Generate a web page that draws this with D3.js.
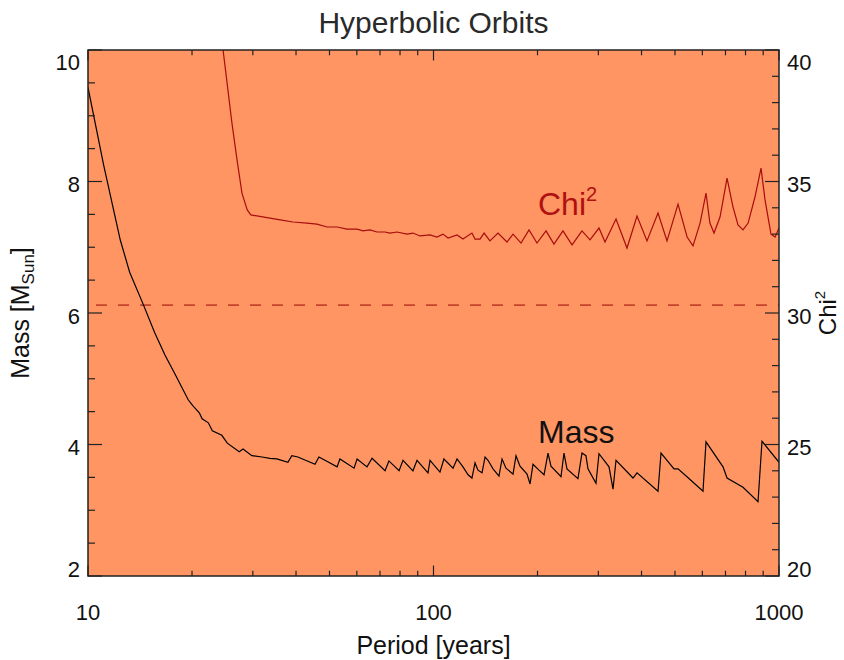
<!DOCTYPE html>
<html>
<head>
<meta charset="utf-8">
<script src="https://cdn.jsdelivr.net/npm/d3@7"></script>
<style>
  body { margin: 0; background: #fff; }
  text { font-family: "Liberation Sans", Arial, Helvetica, sans-serif; }
</style>
</head>
<body>
<svg id="chart" width="844" height="660"></svg>
<script>
const width = 844
const height = 660

// periods [years] and fitted mass [M_sun]
const massPeriod = [10.0, 11.1, 12.4, 13.2, 14.4, 15.6, 16.7, 17.9, 19.5, 20.1, 21.0, 21.4, 22.3, 22.9, 24.4, 25.3, 27.4, 28.1, 29.8, 31.9, 33.6, 35.2, 37.9, 38.9, 40.5, 45.4, 46.6, 52.6, 53.6, 58.9, 60.1, 64.2, 66.4, 72.4, 74.3, 79.5, 81.6, 87.2, 89.6, 96.4, 97.7, 104.4, 107.2, 113.9, 117.0, 121.7, 125.9, 129.2, 131.9, 134.5, 138.2, 141.0, 143.8, 148.7, 154.7, 157.9, 162.1, 169.9, 173.3, 178.0, 186.5, 190.3, 194.1, 202.0, 208.9, 214.5, 218.8, 233.9, 238.6, 243.4, 261.9, 269.0, 276.2, 280.0, 295.3, 301.3, 322.1, 330.8, 337.5, 378.0, 388.2, 446.5, 455.5, 496.7, 510.2, 541.6, 602.6, 614.8, 688.6, 707.3, 786.6, 869.6, 892.9, 1000]
const massValue = [9.43, 8.25, 7.11, 6.62, 6.15, 5.70, 5.36, 5.06, 4.68, 4.59, 4.48, 4.39, 4.33, 4.21, 4.14, 4.02, 3.89, 3.93, 3.83, 3.81, 3.79, 3.78, 3.73, 3.83, 3.81, 3.70, 3.81, 3.66, 3.78, 3.64, 3.78, 3.66, 3.79, 3.60, 3.75, 3.60, 3.76, 3.60, 3.76, 3.57, 3.76, 3.58, 3.78, 3.64, 3.78, 3.66, 3.54, 3.49, 3.72, 3.61, 3.57, 3.81, 3.76, 3.63, 3.52, 3.78, 3.64, 3.55, 3.83, 3.67, 3.55, 3.40, 3.70, 3.61, 3.54, 3.87, 3.67, 3.51, 3.87, 3.63, 3.48, 3.87, 3.83, 3.63, 3.41, 3.86, 3.66, 3.32, 3.76, 3.49, 3.57, 3.29, 3.87, 3.63, 3.63, 3.51, 3.29, 4.04, 3.66, 3.49, 3.35, 3.13, 4.05, 3.73]

// periods [years] and chi^2
const chiPeriod = [24.6, 26.1, 27.0, 27.9, 28.9, 29.6, 36.0, 39.2, 43.0, 46.0, 49.2, 52.6, 56.2, 60.1, 62.5, 65.5, 68.6, 72.4, 74.8, 78.4, 83.8, 87.2, 91.4, 97.7, 102.3, 106.5, 110.2, 117.0, 121.7, 129.2, 131.9, 136.3, 140.1, 145.7, 153.7, 163.2, 169.9, 179.2, 189.0, 199.3, 211.7, 223.2, 237.0, 251.7, 269.0, 283.8, 301.3, 313.6, 337.5, 363.1, 388.2, 414.9, 446.5, 474.1, 510.2, 542.0, 563.8, 591.0, 614.8, 631.0, 648.5, 675.0, 707.3, 736.0, 761.0, 786.6, 814.0, 852.0, 887.2, 911.0, 948.0, 974.0, 1000]
const chiValue = [40.0, 37.22, 35.82, 34.56, 33.92, 33.73, 33.54, 33.46, 33.42, 33.38, 33.27, 33.27, 33.19, 33.19, 33.12, 33.16, 33.08, 33.08, 33.04, 33.08, 33.00, 33.04, 32.93, 32.97, 32.89, 33.00, 32.85, 32.97, 32.81, 33.04, 32.81, 32.81, 33.04, 32.74, 33.04, 32.70, 33.00, 32.66, 33.16, 32.66, 33.12, 32.62, 33.12, 32.59, 33.12, 32.78, 33.23, 32.70, 33.57, 32.47, 33.69, 32.74, 33.80, 32.74, 34.14, 32.89, 32.55, 33.42, 34.56, 33.42, 33.04, 33.65, 35.13, 34.03, 33.35, 33.16, 33.42, 34.41, 35.51, 34.30, 33.00, 32.89, 33.23]

const dashMass = 6.12

const xTicks = [10, 100, 1000]
const massTicks = [2, 4, 6, 8, 10]
const chiTicks = [20, 25, 30, 35, 40]

const plotLeft = 88, plotRight = 779, plotTop = 50, plotBottom = 576

const svg = d3.select('#chart')

const x = d3.scaleLog().domain([10, 1000]).range([plotLeft, plotRight])
const yM = d3.scaleLinear().domain([2, 10]).range([plotBottom, plotTop])
const yC = d3.scaleLinear().domain([20, 40]).range([plotBottom, plotTop])

svg.append('rect')
    .attr('x', plotLeft).attr('y', plotTop)
    .attr('width', plotRight - plotLeft).attr('height', plotBottom - plotTop)
    .attr('fill', '#ff9563')

svg.append('clipPath').attr('id', 'plotclip')
    .append('rect')
    .attr('x', plotLeft).attr('y', plotTop)
    .attr('width', plotRight - plotLeft).attr('height', plotBottom - plotTop)

const plot = svg.append('g').attr('clip-path', 'url(#plotclip)')

// dashed level line
plot.append('line')
    .attr('x1', plotLeft).attr('x2', plotRight)
    .attr('y1', yM(dashMass)).attr('y2', yM(dashMass))
    .attr('stroke', '#c4432b')
    .attr('stroke-width', 1.6)
    .attr('stroke-dasharray', '11,11')
    .attr('stroke-dashoffset', -8)

const chiLine = d3.line()
    .x((d, i) => x(chiPeriod[i]))
    .y(d => yC(d))

plot.append('path')
    .attr('d', chiLine(chiValue))
    .attr('fill', 'none')
    .attr('stroke', '#a80d0d')
    .attr('stroke-width', 1.2)

const massLine = d3.line()
    .x((d, i) => x(massPeriod[i]))
    .y(d => yM(d))

plot.append('path')
    .attr('d', massLine(massValue))
    .attr('fill', 'none')
    .attr('stroke', '#000')
    .attr('stroke-width', 1.2)

// ticks
const xMinor = x.ticks().filter(t => !xTicks.includes(t))
const massMinor = d3.range(2, 10.01, 0.5).filter(t => !massTicks.includes(t))
const chiMinor = d3.range(20, 40.01, 1).filter(t => !chiTicks.includes(t))

const tickG = svg.append('g')
    .attr('stroke', '#222')
    .attr('stroke-width', 1.2)

function hTicks(vals, len) {
    vals.forEach(v => {
        tickG.append('line').attr('x1', x(v)).attr('x2', x(v)).attr('y1', plotBottom).attr('y2', plotBottom - len)
        tickG.append('line').attr('x1', x(v)).attr('x2', x(v)).attr('y1', plotTop).attr('y2', plotTop + len)
    })
}
hTicks(xTicks, 10.5)
hTicks(xMinor, 5.3)

massTicks.forEach(v => tickG.append('line').attr('x1', plotLeft).attr('x2', plotLeft + 14).attr('y1', yM(v)).attr('y2', yM(v)))
massMinor.forEach(v => tickG.append('line').attr('x1', plotLeft).attr('x2', plotLeft + 7).attr('y1', yM(v)).attr('y2', yM(v)))
chiTicks.forEach(v => tickG.append('line').attr('x1', plotRight).attr('x2', plotRight - 14).attr('y1', yC(v)).attr('y2', yC(v)))
chiMinor.forEach(v => tickG.append('line').attr('x1', plotRight).attr('x2', plotRight - 7).attr('y1', yC(v)).attr('y2', yC(v)))

// frame
svg.append('rect')
    .attr('x', plotLeft).attr('y', plotTop)
    .attr('width', plotRight - plotLeft).attr('height', plotBottom - plotTop)
    .attr('fill', 'none')
    .attr('stroke', '#222')
    .attr('stroke-width', 1.5)

// tick labels
const labelSize = 22
const clampY = y => Math.max(plotTop + 12, Math.min(plotBottom - 7, y + 3))

svg.append('g').selectAll('text')
    .data(xTicks).join('text')
    .attr('x', d => x(d))
    .attr('y', 620)
    .attr('text-anchor', 'middle')
    .attr('font-size', labelSize)
    .attr('fill', '#111')
    .text(d => d)

svg.append('g').selectAll('text')
    .data(massTicks).join('text')
    .attr('x', 80)
    .attr('y', d => clampY(yM(d)))
    .attr('dy', '0.36em')
    .attr('text-anchor', 'end')
    .attr('font-size', labelSize)
    .attr('fill', '#111')
    .text(d => d)

svg.append('g').selectAll('text')
    .data(chiTicks).join('text')
    .attr('x', 787)
    .attr('y', d => clampY(yC(d)))
    .attr('dy', '0.36em')
    .attr('text-anchor', 'start')
    .attr('font-size', labelSize)
    .attr('fill', '#111')
    .text(d => d)

// titles
svg.append('text')
    .attr('x', (plotLeft + plotRight) / 2).attr('y', 33)
    .attr('text-anchor', 'middle')
    .attr('font-size', 30)
    .attr('fill', '#2a2a2a')
    .text('Hyperbolic Orbits')

svg.append('text')
    .attr('x', (plotLeft + plotRight) / 2).attr('y', 654)
    .attr('text-anchor', 'middle')
    .attr('font-size', 25)
    .attr('fill', '#111')
    .text('Period [years]')

const massTitle = svg.append('text')
    .attr('transform', `translate(29, ${(plotTop + plotBottom) / 2}) rotate(-90)`)
    .attr('text-anchor', 'middle')
    .attr('font-size', 25)
    .attr('fill', '#111')
massTitle.append('tspan').text('Mass [M')
massTitle.append('tspan').attr('font-size', 17).attr('dy', 5).text('Sun')
massTitle.append('tspan').attr('dy', -5).text(']')

const chiTitle = svg.append('text')
    .attr('transform', `translate(836, ${(plotTop + plotBottom) / 2}) rotate(-90)`)
    .attr('text-anchor', 'middle')
    .attr('font-size', 24)
    .attr('fill', '#111')
chiTitle.append('tspan').text('Chi')
chiTitle.append('tspan').attr('font-size', 15).attr('dy', -11).text('2')

// curve annotations
const chiNote = svg.append('text')
    .attr('x', 538).attr('y', 215)
    .attr('font-size', 32)
    .attr('fill', '#b01010')
chiNote.append('tspan').text('Chi')
chiNote.append('tspan').attr('font-size', 20).attr('dy', -14).text('2')

svg.append('text')
    .attr('x', 538).attr('y', 443)
    .attr('font-size', 32)
    .attr('fill', '#111')
    .text('Mass')
</script>
</body>
</html>
